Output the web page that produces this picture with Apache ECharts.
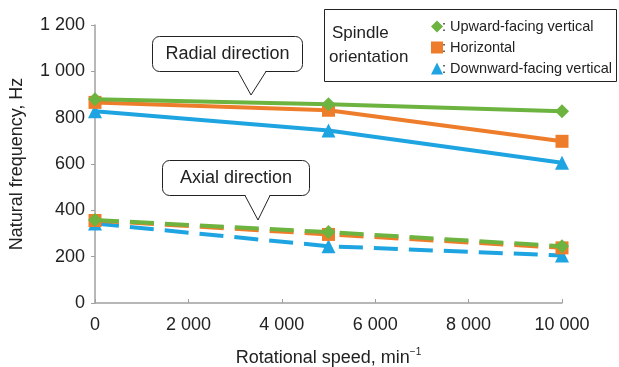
<!DOCTYPE html>
<html>
<head>
<meta charset="utf-8">
<script src="https://cdn.jsdelivr.net/npm/echarts@6/dist/echarts.min.js"></script>
<style>
html,body{margin:0;padding:0;background:#fff;}
#chart{width:619px;height:367px;}
</style>
</head>
<body>
<div id="chart"></div>
<script>
const speeds = [0, 5000, 10000];
const orientationNames = ['Upward-facing vertical', 'Horizontal', 'Downward-facing vertical'];
const radialUp = [880, 858, 828];
const radialHor = [866, 832, 698];
const radialDown = [828, 745, 605];
const axialUp = [358, 306, 245];
const axialHor = [356, 296, 238];
const axialDown = [343, 245, 205];
const xTicks = [0, 2000, 4000, 6000, 8000, 10000];
const yTicks = [0, 200, 400, 600, 800, 1000, 1200];

const colors = ['#6db33f', '#ee7d2b', '#1ea4e1'];
const symbols = ['diamond', 'rect', 'triangle'];
const symbolSizes = [14, 13, 14];
const font = 'Liberation Sans, Arial, sans-serif';

function fmt(v){ return String(v).replace(/\B(?=(\d{3})+(?!\d))/g, ' '); }
function pairs(vals){ return speeds.map((s,i)=>[s, vals[i]]); }

const radial = [radialUp, radialHor, radialDown];
const axial = [axialUp, axialHor, axialDown];
const series = [];
[0,1,2].forEach(i=>{
  series.push({
    name: orientationNames[i], type: 'line', data: pairs(axial[i]),
    symbol: symbols[i], symbolSize: symbolSizes[i], z: 3 - i,
    itemStyle: {color: colors[i]},
    lineStyle: {color: colors[i], width: 4, type: [24, 11]}
  });
});
[2,1,0].forEach(i=>{
  series.push({
    name: orientationNames[i], type: 'line', data: pairs(radial[i]),
    symbol: symbols[i], symbolSize: symbolSizes[i], z: 5 - i,
    itemStyle: {color: colors[i]},
    lineStyle: {color: colors[i], width: 4}
  });
});

function callout(x1, y1, x2, y2, tipX, tipY, baseL, baseR, text){
  return [
    {type:'rect', shape:{x:x1, y:y1, width:x2-x1, height:y2-y1, r:7}, style:{fill:'#fff', stroke:'#222', lineWidth:1}, z:50},
    {type:'polygon', shape:{points:[[baseL, y2-1],[tipX, tipY],[baseR, y2-1]]}, style:{fill:'#fff'}, z:51},
    {type:'polyline', shape:{points:[[baseL, y2],[tipX, tipY],[baseR, y2]]}, style:{stroke:'#222', lineWidth:1, fill:null}, z:52},
    {type:'text', x:(x1+x2)/2, y:(y1+y2)/2, style:{text:text, font:'18px ' + font, fill:'#222', align:'center', verticalAlign:'middle'}, z:53}
  ];
}

const chart = echarts.init(document.getElementById('chart'));
chart.setOption({
  animation: false,
  backgroundColor: '#fff',
  grid: {left: 95, right: 57, top: 25, bottom: 64, containLabel: false, outerBoundsMode: 'none'},
  xAxis: {
    type: 'value', min: 0, max: 10000, interval: 2000,
    axisLine: {lineStyle: {color: '#a0a0a0', width: 1.5}},
    axisTick: {show: true, length: 4, inside: true, lineStyle: {color: '#a0a0a0'}},
    splitLine: {show: false},
    axisLabel: {color: '#222', fontSize: 18, fontFamily: font, margin: 13, formatter: v => fmt(v)},
    name: 'Rotational speed, min{sup|−1}', nameLocation: 'middle', nameGap: 44,
    nameTextStyle: {color: '#222', fontSize: 18, fontFamily: font, rich: {sup: {fontSize: 10, verticalAlign: 'top', padding: [0,0,12,0], color: '#222', fontFamily: font}}}
  },
  yAxis: {
    type: 'value', min: 0, max: 1200, interval: 200,
    axisLine: {show: true, lineStyle: {color: '#a0a0a0', width: 1.5}},
    axisTick: {show: true, length: 4, lineStyle: {color: '#a0a0a0'}},
    splitLine: {show: false},
    axisLabel: {color: '#222', fontSize: 18, fontFamily: font, margin: 10, formatter: v => fmt(v)},
    name: 'Natural frequency, Hz', nameLocation: 'middle', nameGap: 69, nameRotate: 90,
    nameTextStyle: {color: '#222', fontSize: 18, fontFamily: font}
  },
  legend: {
    show: true, orient: 'vertical', left: 426, top: 14, itemGap: 6,
    itemWidth: 12, itemHeight: 12,
    data: orientationNames.map((n,i)=>({name:n, icon: i===0 ? 'diamond' : (i===1 ? 'rect' : 'triangle'), itemStyle:{color: colors[i]}})),
    formatter: n => ': ' + n,
    textStyle: {color: '#222', fontSize: 14.5, fontFamily: font, padding: [0,0,0,-6]},
    selectedMode: false
  },
  graphic: [
    {type:'rect', shape:{x:324.5, y:9.5, width:292, height:72}, style:{fill:'#fff', stroke:'#222', lineWidth:1}, z:-1, silent:true},
    {type:'text', x:332, y:33, style:{text:'Spindle', font:'17px ' + font, fill:'#222', verticalAlign:'middle'}},
    {type:'text', x:329, y:57, style:{text:'orientation', font:'17px ' + font, fill:'#222', verticalAlign:'middle'}},
    ...callout(152.5, 36.5, 302.5, 71.5, 251, 95, 238, 266, 'Radial direction'),
    ...callout(162.5, 160.5, 309.5, 195.5, 258, 220, 245, 270, 'Axial direction')
  ],
  series: series
});
</script>
</body>
</html>
